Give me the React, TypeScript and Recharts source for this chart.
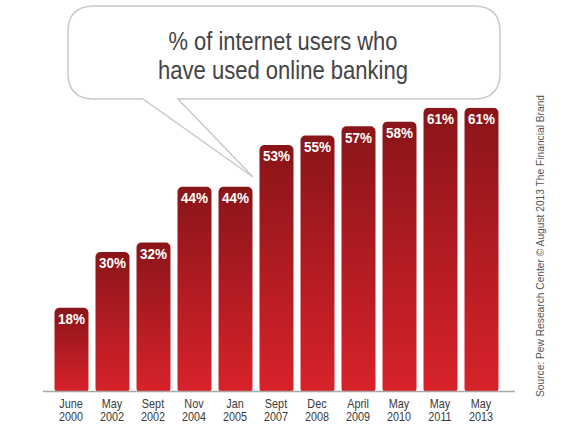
import React from "react";
import { BarChart, Bar, XAxis, YAxis, LabelList, Customized } from "recharts";

const months = ["June", "May", "Sept", "Nov", "Jan", "Sept", "Dec", "April", "May", "May", "May"];
const years = ["2000", "2002", "2002", "2004", "2005", "2007", "2008", "2009", "2010", "2011", "2013"];
const shares = [18, 30, 32, 44, 44, 53, 55, 57, 58, 61, 61];

const titleLines = ["% of internet users who", "have used online banking"];
const sourceNote = "Source: Pew Research Center © August 2013 The Financial Brand";

const data = shares.map((v, i) => ({ label: `${months[i]} ${years[i]}`, value: v }));

const SANS = "'Liberation Sans', Arial, sans-serif";

// the reference uses a condensed face, so squeeze Liberation Sans horizontally
function YearTick(props: any) {
  const { x, y, payload } = props;
  const idx = payload.index;
  return (
    <g transform={`translate(${x},${y}) scale(0.86,1)`}>
      <text textAnchor="middle" fill="#3a3a3a" fontFamily={SANS} fontSize={12.6}>
        <tspan x={0} dy={8.5}>{months[idx]}</tspan>
        <tspan x={0} dy={12.6}>{years[idx]}</tspan>
      </text>
    </g>
  );
}

function ValueLabel(props: any) {
  const { x, y, width, value } = props;
  return (
    <text
      x={x + width / 2}
      y={y + 16.5}
      textAnchor="middle"
      fill="#fff"
      fontFamily={SANS}
      fontWeight="bold"
      fontSize={15.5}
      textLength={27}
      lengthAdjust="spacingAndGlyphs"
    >
      {`${value}%`}
    </text>
  );
}

function Bubble() {
  const l = 68, t = 6, r = 500, b = 99, rad = 26;
  const d = `M ${l + rad} ${t} H ${r - rad} Q ${r} ${t} ${r} ${t + rad} V ${b - rad} Q ${r} ${b} ${r - rad} ${b}
    H 178 L 253 177 L 143 ${b} H ${l + rad} Q ${l} ${b} ${l} ${b - rad} V ${t + rad} Q ${l} ${t} ${l + rad} ${t} Z`;
  return (
    <g>
      <path d={d} fill="#fff" stroke="#c9c9c9" strokeWidth={1.5} />
      <text textAnchor="middle" fill="#444" fontFamily={SANS} fontSize={26.5}>
        <tspan x={283} y={50} textLength={229} lengthAdjust="spacingAndGlyphs">{titleLines[0]}</tspan>
        <tspan x={283} y={79} textLength={250} lengthAdjust="spacingAndGlyphs">{titleLines[1]}</tspan>
      </text>
      <text
        transform="translate(544,246) rotate(-90)"
        textAnchor="middle"
        fill="#555"
        fontFamily={SANS}
        fontSize={11.5}
        textLength={302}
        lengthAdjust="spacingAndGlyphs"
      >
        {sourceNote}
      </text>
    </g>
  );
}

export default function App() {
  return (
    <div style={{ position: "fixed", left: 0, top: 0, width: 565, height: 430, background: "#fff" }}>
      <BarChart
        width={565}
        height={430}
        data={data}
        margin={{ top: 107.7, right: 50, bottom: 8, left: 43 }}
        barSize={34}
      >
        <defs>
          <linearGradient id="barGrad" x1="0" y1="0" x2="0" y2="1">
            <stop offset="0%" stopColor="#891519" />
            <stop offset="100%" stopColor="#d8222a" />
          </linearGradient>
        </defs>
        <Customized component={Bubble} />
        <XAxis
          dataKey="label"
          height={30.5}
          interval={0}
          padding={{ left: 7.5, right: 13.5 }}
          axisLine={{ stroke: "#a8a8a8", strokeWidth: 1.5 }}
          tickLine={false}
          tick={<YearTick />}
        />
        <YAxis hide domain={[0, 61]} allowDataOverflow />
        <Bar dataKey="value" fill="url(#barGrad)" radius={[5, 5, 3, 3]} isAnimationActive={false}>
          <LabelList dataKey="value" content={<ValueLabel />} />
        </Bar>
      </BarChart>
    </div>
  );
}
